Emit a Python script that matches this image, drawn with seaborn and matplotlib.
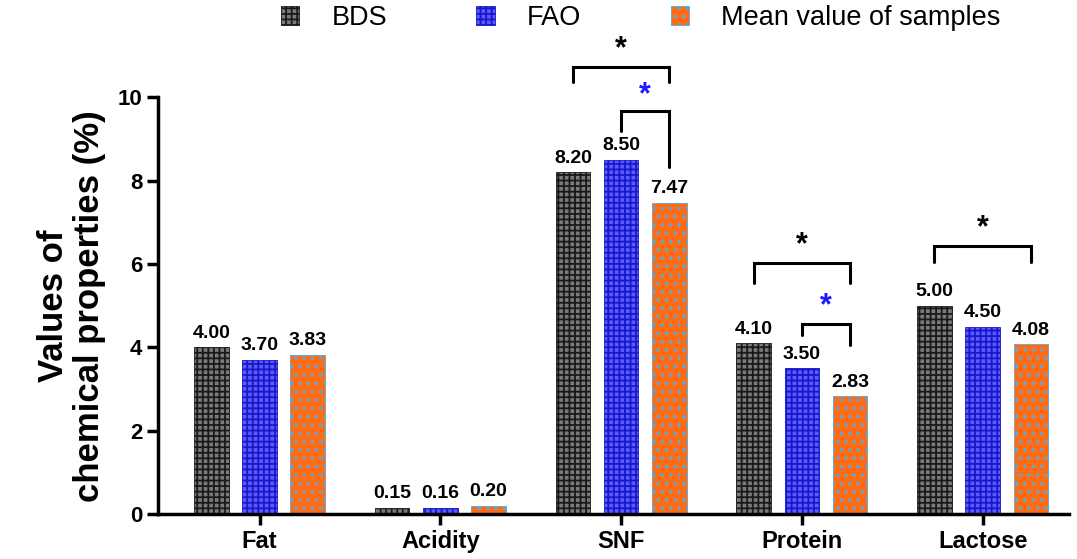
import pandas as pd
import seaborn as sns
import matplotlib.pyplot as plt

# dados
categorias = ['Fat', 'Acidity', 'SNF', 'Protein', 'Lactose']
bds = [4.00, 0.15, 8.20, 4.10, 5.00]
fao = [3.70, 0.16, 8.50, 3.50, 4.50]
media = [3.83, 0.20, 7.47, 2.83, 4.08]
grupos = ['BDS', 'FAO', 'Mean value of samples']

dados = pd.DataFrame({
    'categoria': categorias * 3,
    'grupo': [g for g in grupos for _ in categorias],
    'valor': bds + fao + media,
})

sns.set_theme(style="ticks")
plt.rcParams['font.family'] = ['Liberation Sans', 'DejaVu Sans']
plt.rcParams['hatch.linewidth'] = 1.3
plt.rcParams['text.color'] = 'black'
plt.rcParams['axes.labelcolor'] = 'black'
plt.rcParams['xtick.color'] = 'black'
plt.rcParams['ytick.color'] = 'black'
plt.rcParams['axes.edgecolor'] = 'black'

fig = plt.figure(figsize=(10.77, 5.59), dpi=100)
ax = fig.add_axes([0.147, 0.080, 0.846, 0.746])

cores = ['#7a7a7a', '#5a5aff', '#ff6a12']
sns.barplot(data=dados, x='categoria', y='valor', hue='grupo', order=categorias,
            hue_order=grupos, palette=cores, gap=0.28, saturation=1,
            legend=False, ax=ax)

# padrões das barras
hachuras = ['+++', '+++', '..']
bordas = ['#1a1a1a', '#1818c8', '#5aa8dc']
for cont, h, b in zip(ax.containers, hachuras, bordas):
    for p in cont:
        p.set_hatch(h)
        p.set_edgecolor(b)
        p.set_linewidth(0.6)
    ax.bar_label(cont, fmt='%.2f', padding=4, fontsize=14, fontweight='bold')

# colchetes de significância
def colchete(x1, x2, topo, y1, y2, cor, ystar):
    ax.plot([x1, x1, x2, x2], [y1, topo, topo, y2], color='black', lw=2.2,
            clip_on=False, solid_joinstyle='miter')
    ax.text((x1 + x2) / 2, ystar, '*', ha='center', va='center', color=cor,
            fontsize=22, fontweight='bold', clip_on=False)

w = 0.8 / 3
colchete(2 - w, 2 + w, 10.72, 10.36, 10.36, 'black', 11.15)
colchete(2, 2 + w, 9.66, 9.18, 8.32, '#1a1aff', 10.05)
colchete(3 - w, 3 + w, 6.02, 5.54, 5.54, 'black', 6.45)
colchete(3, 3 + w, 4.56, 4.29, 4.05, '#1a1aff', 4.98)
colchete(4 - w, 4 + w, 6.43, 6.04, 6.04, 'black', 6.86)

ax.set_xlim(-0.56, 4.48)
ax.set_ylim(0, 10)
ax.set_yticks([0, 2, 4, 6, 8, 10])
ax.set_xlabel('')
ax.set_ylabel('Values of\nchemical properties (%)', fontsize=25, fontweight='bold',
              labelpad=8, linespacing=1.12)
ax.tick_params(axis='both', width=2.5, length=8)
ax.tick_params(axis='y', labelsize=16)
ax.tick_params(axis='x', labelsize=17)
for t in ax.get_xticklabels() + ax.get_yticklabels():
    t.set_fontweight('bold')
for lado in ['left', 'bottom']:
    ax.spines[lado].set_linewidth(2.5)
sns.despine(ax=ax)

# legenda no topo
alcas = [c[0] for c in ax.containers]
fig.legend(alcas, grupos, loc='center', bbox_to_anchor=(0.595, 0.968), ncol=3,
           frameon=False, fontsize=19.5, handlelength=0.67, handleheight=0.67,
           columnspacing=3.3, handletextpad=1.2, borderpad=0.2)

plt.savefig('out.png', dpi=100)
